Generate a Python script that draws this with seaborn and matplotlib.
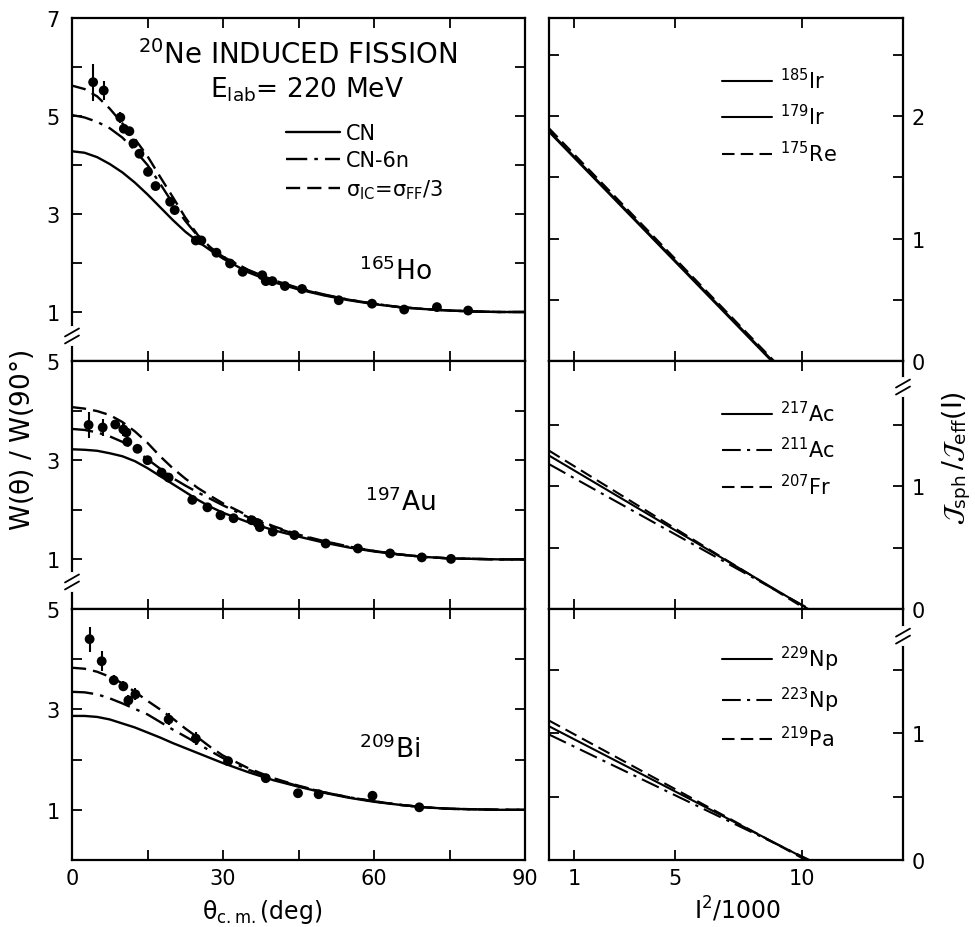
import numpy as np
import pandas as pd
import seaborn as sns
import matplotlib.pyplot as plt

# theta grid for the calculated curves (deg)
theta = [0, 2.5, 5, 7.5, 10, 12.5, 15, 17.5, 20, 22.5, 25, 27.5, 30,
         35, 40, 45, 50, 55, 60, 65, 70, 75, 80, 85, 90]

# 165Ho
ho_cn = [4.28, 4.25, 4.16, 4.02, 3.85, 3.64, 3.40, 3.14, 2.88, 2.64, 2.44, 2.26, 2.09,
         1.81, 1.61, 1.46, 1.34, 1.24, 1.16, 1.10, 1.06, 1.03, 1.01, 1.00, 1.00]
ho_cn6n = [5.02, 4.97, 4.88, 4.75, 4.56, 4.30, 4.00, 3.62, 3.22, 2.86, 2.55, 2.30, 2.13,
           1.86, 1.65, 1.49, 1.36, 1.25, 1.17, 1.10, 1.06, 1.03, 1.01, 1.00, 1.00]
ho_ic = [5.62, 5.55, 5.40, 5.15, 4.85, 4.53, 4.18, 3.76, 3.35, 2.93, 2.57, 2.32, 2.13,
         1.85, 1.64, 1.48, 1.35, 1.25, 1.17, 1.10, 1.06, 1.03, 1.01, 1.00, 1.00]
ho_theta = [4.2, 6.3, 9.6, 10.3, 11.4, 12.2, 13.4, 15.1, 16.6, 19.5, 20.4, 24.6, 25.7,
            28.7, 31.4, 33.9, 37.8, 38.5, 39.8, 42.3, 45.7, 53.0, 59.6, 66.0, 72.5, 78.7]
ho_w = [5.69, 5.52, 4.97, 4.74, 4.69, 4.44, 4.23, 3.86, 3.57, 3.25, 3.08, 2.46, 2.46,
        2.21, 1.99, 1.82, 1.75, 1.63, 1.63, 1.53, 1.47, 1.24, 1.17, 1.05, 1.10, 1.03]
ho_err = [0.38, 0.20, 0.12, 0.08, 0.08, 0.08, 0.07, 0.07, 0.06, 0.08, 0.06, 0.05, 0.05,
          0, 0, 0, 0, 0, 0, 0, 0, 0, 0, 0, 0, 0]

# 197Au
au_cn = [3.22, 3.21, 3.19, 3.14, 3.08, 2.98, 2.84, 2.68, 2.52, 2.36, 2.20, 2.06, 1.94,
         1.75, 1.59, 1.46, 1.34, 1.24, 1.16, 1.10, 1.05, 1.02, 1.01, 1.00, 1.00]
au_cn6n = [3.63, 3.61, 3.56, 3.48, 3.37, 3.21, 3.02, 2.83, 2.64, 2.49, 2.35, 2.22, 2.09,
           1.85, 1.65, 1.49, 1.36, 1.25, 1.17, 1.10, 1.05, 1.02, 1.01, 1.00, 1.00]
au_ic = [4.07, 4.04, 3.99, 3.91, 3.77, 3.58, 3.35, 3.08, 2.84, 2.63, 2.44, 2.28, 2.13,
         1.88, 1.67, 1.50, 1.37, 1.26, 1.17, 1.10, 1.05, 1.02, 1.01, 1.00, 1.00]
au_theta = [3.3, 6.1, 8.6, 10.2, 10.8, 11.0, 13.0, 15.0, 17.8, 19.2, 23.9, 26.9, 29.5,
            32.1, 35.7, 36.9, 37.3, 39.9, 44.2, 50.4, 56.8, 63.2, 69.5, 75.3]
au_w = [3.71, 3.66, 3.72, 3.62, 3.56, 3.37, 3.23, 3.00, 2.75, 2.65, 2.20, 2.05, 1.89,
        1.83, 1.79, 1.73, 1.65, 1.56, 1.49, 1.32, 1.22, 1.12, 1.04, 1.01]
au_err = [0.27, 0.17, 0.10, 0.13, 0.10, 0.08, 0.08, 0.08, 0.08, 0.06, 0, 0, 0,
          0, 0, 0, 0, 0, 0, 0, 0, 0, 0, 0]

# 209Bi
bi_cn = [2.87, 2.87, 2.85, 2.80, 2.72, 2.64, 2.54, 2.44, 2.33, 2.23, 2.13, 2.03, 1.93,
         1.75, 1.59, 1.46, 1.34, 1.24, 1.16, 1.10, 1.05, 1.02, 1.01, 1.00, 1.00]
bi_cn6n = [3.35, 3.34, 3.30, 3.22, 3.12, 3.01, 2.90, 2.75, 2.60, 2.46, 2.32, 2.17, 2.03,
           1.80, 1.62, 1.47, 1.35, 1.25, 1.17, 1.10, 1.05, 1.02, 1.01, 1.00, 1.00]
bi_ic = [3.83, 3.81, 3.75, 3.65, 3.52, 3.35, 3.17, 3.00, 2.82, 2.62, 2.44, 2.25, 2.08,
         1.83, 1.63, 1.48, 1.35, 1.25, 1.17, 1.10, 1.05, 1.02, 1.01, 1.00, 1.00]
bi_theta = [3.5, 5.9, 8.3, 10.2, 11.2, 12.6, 19.2, 24.6, 31.0, 38.5, 44.9, 49.0, 59.7, 69.0]
bi_w = [4.40, 3.96, 3.58, 3.46, 3.18, 3.30, 2.80, 2.42, 1.97, 1.63, 1.33, 1.31, 1.28, 1.05]
bi_err = [0.25, 0.20, 0.10, 0.10, 0.10, 0.12, 0.12, 0.12, 0, 0, 0, 0, 0, 0]

# J_sph/J_eff vs I^2/1000 (straight lines: start and end points)
ir185_x, ir185_y = [0, 8.85], [1.88, 0]
ir179_x, ir179_y = [0, 8.80], [1.87, 0]
re175_x, re175_y = [0, 8.90], [1.90, 0]
ac217_x, ac217_y = [0, 10.25], [1.25, 0]
ac211_x, ac211_y = [0, 10.30], [1.18, 0]
fr207_x, fr207_y = [0, 10.15], [1.29, 0]
np229_x, np229_y = [0, 10.24], [1.055, 0]
np223_x, np223_y = [0, 10.30], [0.99, 0]
pa219_x, pa219_y = [0, 10.15], [1.10, 0]

sns.set_style("ticks")
plt.rcParams['font.family'] = ['DejaVu Sans']
plt.rcParams['mathtext.default'] = 'regular'
for k in ['text.color', 'axes.labelcolor', 'xtick.color', 'ytick.color', 'axes.edgecolor']:
    plt.rcParams[k] = 'black'

W, H = 975, 928
fig = plt.figure(figsize=(W / 100, H / 100), dpi=100)

def px_axes(x0, x1, y0, y1):
    return fig.add_axes([x0 / W, 1 - y1 / H, (x1 - x0) / W, (y1 - y0) / H])

rows = [(19, 362), (362, 610), (610, 861)]
L = [px_axes(72, 525, a, b) for a, b in rows]
R = [px_axes(549, 903, a, b) for a, b in rows]

SOLID = '-'
DASHDOT = (0, (9, 3, 1.5, 3))
DASHED = (0, (6, 3))

left_sets = [
    (ho_cn, ho_cn6n, ho_ic, ho_theta, ho_w, ho_err, 7),
    (au_cn, au_cn6n, au_ic, au_theta, au_w, au_err, 5),
    (bi_cn, bi_cn6n, bi_ic, bi_theta, bi_w, bi_err, 5),
]

for ax, (cn, cn6n, ic, th, w, err, ytop) in zip(L, left_sets):
    sns.lineplot(x=theta, y=cn, color='k', lw=1.7, linestyle=SOLID, ax=ax, label='CN')
    sns.lineplot(x=theta, y=cn6n, color='k', lw=1.7, linestyle=DASHDOT, ax=ax, label='CN-6n')
    sns.lineplot(x=theta, y=ic, color='k', lw=1.7, linestyle=DASHED, ax=ax,
                 label=r'$\sigma_{IC}$=$\sigma_{FF}$/3')
    th = np.array(th); w = np.array(w); err = np.array(err)
    m = err > 0
    ax.vlines(th[m], w[m] - err[m], w[m] + err[m], color='k', lw=1.5)
    sns.scatterplot(x=th, y=w, color='k', s=50, edgecolor='none', ax=ax, zorder=4)
    ax.set_xlim(0, 90)
    ax.set_ylim(0, ytop)
    ax.set_xticks([0, 30, 60, 90])
    ax.set_xticks([15, 45, 75], minor=True)
    ax.set_yticks([v for v in [1, 3, 5, 7] if v <= ytop])
    ax.set_yticks([v for v in [2, 4, 6] if v < ytop], minor=True)
    ax.tick_params(which='both', direction='in', length=7, width=1.3, top=True, right=True,
                   labelsize=15, pad=9)
    ax.tick_params(axis='x', labelbottom=False, pad=6)
    ax.set_xlabel('')
    ax.set_ylabel('')
    if ax is not L[0]:
        ax.get_legend().remove()

L[2].tick_params(axis='x', labelbottom=True)

leg = L[0].legend(loc='center left', bbox_to_anchor=(0.472, 0.58), frameon=False,
                  fontsize=15, handlelength=2.6, handletextpad=0.3, labelspacing=0.35,
                  borderpad=0, borderaxespad=0)

right_sets = [
    [(ir185_x, ir185_y, SOLID, r'$^{185}$Ir'), (ir179_x, ir179_y, SOLID, r'$^{179}$Ir'),
     (re175_x, re175_y, DASHED, r'$^{175}$Re')],
    [(ac217_x, ac217_y, SOLID, r'$^{217}$Ac'), (ac211_x, ac211_y, DASHDOT, r'$^{211}$Ac'),
     (fr207_x, fr207_y, DASHED, r'$^{207}$Fr')],
    [(np229_x, np229_y, SOLID, r'$^{229}$Np'), (np223_x, np223_y, DASHDOT, r'$^{223}$Np'),
     (pa219_x, pa219_y, DASHED, r'$^{219}$Pa')],
]
legend_y = [0.714, 0.645, 0.649]
right_ytop = [2.8, 2.02, 1.98]
right_major = [[0, 1, 2], [0, 1], [0, 1]]

for ax, lines, ly, ytop, maj in zip(R, right_sets, legend_y, right_ytop, right_major):
    for xs, ys, ls, lab in lines:
        sns.lineplot(x=xs, y=ys, color='k', lw=1.5, linestyle=ls, ax=ax, label=lab)
    ax.set_xlim(0, 14)
    ax.set_ylim(0, ytop)
    ax.set_xticks([1, 5, 10])
    ax.set_yticks(maj)
    ax.set_yticks([v for v in [0.5, 1.5, 2.5] if v < ytop], minor=True)
    ax.tick_params(which='both', direction='in', length=7, width=1.3, top=True, right=True,
                   left=True, labelleft=False, labelright=True, labelbottom=False,
                   labelsize=15, pad=6)
    ax.set_xlabel('')
    ax.set_ylabel('')
    ax.legend(loc='center left', bbox_to_anchor=(0.489, ly), frameon=False, fontsize=15,
              handlelength=2.4, handletextpad=0.4, labelspacing=0.55, borderpad=0,
              borderaxespad=0)

R[2].tick_params(axis='x', labelbottom=True)

for ax in L + R:
    for sp in ax.spines.values():
        sp.set_linewidth(1.6)
        sp.set_color('k')


def brk(ax, yf, xf):
    bb = ax.get_position()
    wpx, hpx = bb.width * W, bb.height * H
    dx, dy, g = 7 / wpx, 4 / hpx, 3.5 / hpx
    ax.plot([xf, xf], [yf - 2.2 * g, yf + 2.2 * g], color='white', lw=3,
            transform=ax.transAxes, clip_on=False, zorder=10)
    for s in (-g, g):
        ax.plot([xf - dx, xf + dx], [yf + s - dy, yf + s + dy], color='k', lw=1.3,
                transform=ax.transAxes, clip_on=False, zorder=11)


brk(L[0], 0.073, 0)
brk(L[1], 0.109, 0)
brk(R[1], 0.895, 1)
brk(R[2], 0.892, 1)

# annotations
L[0].text(0.497, 0.895, r'$^{20}$Ne INDUCED FISSION', transform=L[0].transAxes,
          ha='center', va='center', fontsize=20)
L[0].text(0.519, 0.793, r'E$_{lab}$= 220 MeV', transform=L[0].transAxes,
          ha='center', va='center', fontsize=19)
L[0].text(0.713, 0.262, r'$^{165}$Ho', transform=L[0].transAxes, ha='center', va='center',
          fontsize=19)
L[1].text(0.724, 0.431, r'$^{197}$Au', transform=L[1].transAxes, ha='center', va='center',
          fontsize=19)
L[2].text(0.702, 0.442, r'$^{209}$Bi', transform=L[2].transAxes, ha='center', va='center',
          fontsize=19)

fig.text(22 / W, 1 - 440 / H, r'W($\theta$) / W(90°)', rotation=90, ha='center',
         va='center', fontsize=19)
fig.text(262 / W, 1 - 912 / H, r'$\theta_{c.m.}$(deg)', ha='center', va='center', fontsize=17)
fig.text(737 / W, 1 - 910 / H, r'I$^{2}$/1000', ha='center', va='center', fontsize=17)
fig.text(957 / W, 1 - 458 / H, r'$\mathcal{J}_{sph}\,/\mathcal{J}_{eff}$(I)', rotation=90,
         ha='center', va='center', fontsize=19)

fig.savefig('out.png', dpi=100)
